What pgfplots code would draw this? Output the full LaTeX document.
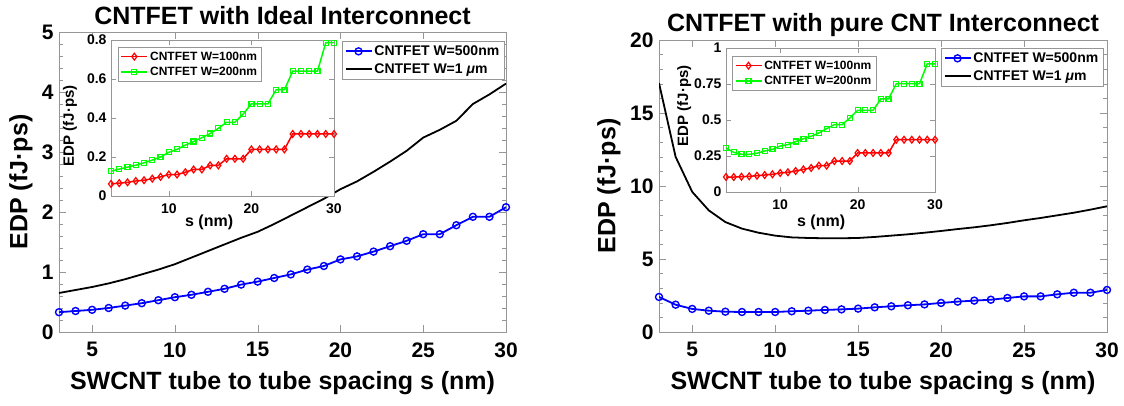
\documentclass[border=0pt]{standalone}
\usepackage{fontspec}
\setmainfont{Liberation Sans}
\usepackage{pgfplots}
\pgfplotsset{compat=1.18}

\definecolor{mblue}{RGB}{0,0,255}
\definecolor{mred}{RGB}{255,0,0}
\definecolor{mgreen}{RGB}{0,255,0}
\definecolor{frame}{RGB}{150,150,150}

\pgfplotsset{
  common/.style={
    scale only axis, anchor=south west,
    xmin=3, xmax=30,
    axis line style={frame}, tick style={frame},
    tick align=inside,
    /pgf/number format/assume math mode=true,
    legend cell align=left,
    legend image code/.code={\draw[mark repeat=2,mark phase=2] plot coordinates {(0pt,0pt) (13pt,0pt) (26pt,0pt)};},
    legend style={draw=frame, fill=white, inner sep=2.5pt, row sep=2.5pt},
  },
  mainax/.style={common,
    xtick={5,10,...,30}, minor y tick num=4,
    major tick length=7pt, minor tick length=4pt,
    ticklabel style={font=\bfseries\fontsize{21}{21}\selectfont},
    xticklabel style={yshift=-7pt}, yticklabel style={xshift=-2pt},
    label style={font=\bfseries\fontsize{25}{25}\selectfont},
    title style={font=\bfseries\fontsize{25}{25}\selectfont, anchor=center},
    xlabel={SWCNT tube to tube spacing s (nm)},
    ylabel={EDP (fJ·ps)},
    legend style={font=\bfseries\fontsize{14}{16}\selectfont, anchor=north east},
  },
  inset/.style={common,
    axis background/.style={fill=white},
    xtick={10,20,30},
    major tick length=5pt,
    ticklabel style={font=\bfseries\fontsize{14}{14}\selectfont},
    xticklabel style={yshift=-4pt}, yticklabel style={xshift=-1pt},
    xlabel={s (nm)}, ylabel={EDP (fJ·ps)},
    xlabel style={font=\bfseries\fontsize{16}{16}\selectfont, anchor=center},
    ylabel style={font=\bfseries\fontsize{15}{15}\selectfont, anchor=center},
    legend style={font=\bfseries\fontsize{12}{14}\selectfont, anchor=north west, row sep=1.5pt},
  },
  blueline/.style={color=mblue, line width=1.8pt, mark=o, mark size=3.5pt, mark options={line width=1.4pt}},
  blackline/.style={color=black, line width=1.8pt},
  redline/.style={color=mred, line width=1.5pt, mark=diamond, mark size=3.4pt, mark options={line width=1.2pt}},
  greenline/.style={color=mgreen, line width=1.5pt, mark=square, mark size=2.5pt, mark options={line width=1.2pt}},
}

\begin{document}
\begin{tikzpicture}
\path[use as bounding box] (0pt,0pt) rectangle (1124pt,406pt);

% ---------- left: ideal interconnect ----------
\begin{axis}[mainax, at={(59pt,74pt)}, width=447pt, height=300pt,
    ymin=0, ymax=5, ytick={0,1,...,5},
    title={CNTFET with Ideal Interconnect},
    title style={at={(axis description cs:0.5,1.034)}},
    xlabel style={at={(axis description cs:0.5,-0.17)}, anchor=center},
    ylabel style={at={(axis description cs:-0.085,0.5)}, anchor=center},
    legend style={at={(0.9955,0.97)}},
]
\addplot[blueline] coordinates {
 (3,0.33) (4,0.35) (5,0.37) (6,0.40) (7,0.44) (8,0.48) (9,0.53) (10,0.58)
 (11,0.62) (12,0.67) (13,0.72) (14,0.79) (15,0.84) (16,0.90) (17,0.96)
 (18,1.04) (19,1.10) (20,1.21) (21,1.26) (22,1.34) (23,1.43) (24,1.52)
 (25,1.63) (26,1.63) (27,1.78) (28,1.92) (29,1.92) (30,2.08)
};
\addplot[blackline] coordinates {
 (3,0.65) (4,0.70) (5,0.75) (6,0.81) (7,0.88) (8,0.96) (9,1.04) (10,1.13)
 (11,1.24) (12,1.35) (13,1.46) (14,1.57) (15,1.67) (16,1.80) (17,1.94)
 (18,2.08) (19,2.22) (20,2.38) (21,2.51) (22,2.67) (23,2.84) (24,3.02)
 (25,3.24) (26,3.37) (27,3.52) (28,3.80) (29,3.96) (30,4.14)
};
\legend{CNTFET W=500nm, CNTFET W=1 \textit{μ}m}
\end{axis}

\begin{axis}[inset, at={(111pt,210pt)}, width=223pt, height=156pt,
    ymin=0, ymax=0.8, ytick={0,0.2,...,0.8},
    xlabel style={at={(axis description cs:0.44,-0.17)}},
    ylabel style={at={(axis description cs:-0.184,0.45)}},
    legend style={at={(0.031,0.955)}},
]
\addplot[redline] coordinates {
 (3,0.062) (4,0.066) (5,0.070) (6,0.077) (7,0.081) (8,0.089) (9,0.098)
 (10,0.110) (11,0.110) (12,0.122) (13,0.136) (14,0.136) (15,0.157) (16,0.157)
 (17,0.191) (18,0.191) (19,0.191) (20,0.239) (21,0.239) (22,0.239) (23,0.239)
 (24,0.239) (25,0.318) (26,0.318) (27,0.318) (28,0.318) (29,0.318) (30,0.318)
};
\addplot[greenline] coordinates {
 (3,0.127) (4,0.138) (5,0.148) (6,0.158) (7,0.170) (8,0.184) (9,0.200)
 (10,0.224) (11,0.239) (12,0.261) (13,0.279) (14,0.299) (15,0.320) (16,0.347)
 (17,0.378) (18,0.378) (19,0.420) (20,0.473) (21,0.473) (22,0.473) (23,0.545)
 (24,0.545) (25,0.640) (26,0.640) (27,0.640) (28,0.640) (29,0.786) (30,0.786)
};
\legend{CNTFET W=100nm, CNTFET W=200nm}
\end{axis}

% ---------- right: pure CNT interconnect ----------
\begin{axis}[mainax, at={(659pt,74pt)}, width=448pt, height=292pt,
    ymin=0, ymax=20, ytick={0,5,...,20},
    title={CNTFET with pure CNT Interconnect},
    title style={at={(axis description cs:0.5,1.031)}},
    xlabel style={at={(axis description cs:0.5,-0.175)}, anchor=center},
    ylabel style={at={(axis description cs:-0.1116,0.5)}, anchor=center},
    legend style={at={(0.991,0.9726)}},
]
\addplot[blueline] coordinates {
 (3,2.40) (4,1.87) (5,1.58) (6,1.46) (7,1.39) (8,1.37) (9,1.37) (10,1.37)
 (11,1.42) (12,1.46) (13,1.51) (14,1.55) (15,1.60) (16,1.69) (17,1.76)
 (18,1.83) (19,1.89) (20,1.99) (21,2.08) (22,2.15) (23,2.21) (24,2.33)
 (25,2.44) (26,2.44) (27,2.58) (28,2.69) (29,2.69) (30,2.88)
};
\addplot[blackline] coordinates {
 (3,17.05) (4,12.0) (5,9.6) (6,8.33) (7,7.53) (8,7.08) (9,6.80) (10,6.60)
 (11,6.48) (12,6.44) (13,6.42) (14,6.42) (15,6.44) (16,6.51) (17,6.60)
 (18,6.69) (19,6.80) (20,6.92) (21,7.05) (22,7.17) (23,7.31) (24,7.47)
 (25,7.65) (26,7.81) (27,7.99) (28,8.17) (29,8.38) (30,8.61)
};
\legend{CNTFET W=500nm, CNTFET W=1 \textit{μ}m}
\end{axis}

\begin{axis}[inset, at={(726pt,214pt)}, width=209pt, height=144pt,
    ymin=0, ymax=1, ytick={0,0.25,...,1},
    xlabel style={at={(axis description cs:0.455,-0.208)}},
    ylabel style={at={(axis description cs:-0.2,0.6)}},
    legend style={at={(0.029,0.944)}},
]
\addplot[redline] coordinates {
 (3,0.104) (4,0.104) (5,0.106) (6,0.109) (7,0.113) (8,0.118) (9,0.123)
 (10,0.132) (11,0.137) (12,0.146) (13,0.157) (14,0.167) (15,0.183) (16,0.183)
 (17,0.215) (18,0.215) (19,0.215) (20,0.271) (21,0.271) (22,0.271) (23,0.271)
 (24,0.271) (25,0.363) (26,0.363) (27,0.363) (28,0.363) (29,0.363) (30,0.363)
};
\addplot[greenline] coordinates {
 (3,0.306) (4,0.275) (5,0.262) (6,0.262) (7,0.269) (8,0.285) (9,0.296)
 (10,0.319) (11,0.329) (12,0.350) (13,0.370) (14,0.387) (15,0.410) (16,0.440)
 (17,0.468) (18,0.468) (19,0.514) (20,0.567) (21,0.567) (22,0.567) (23,0.646)
 (24,0.646) (25,0.752) (26,0.752) (27,0.752) (28,0.752) (29,0.890) (30,0.890)
};
\legend{CNTFET W=100nm, CNTFET W=200nm}
\end{axis}
\end{tikzpicture}
\end{document}
